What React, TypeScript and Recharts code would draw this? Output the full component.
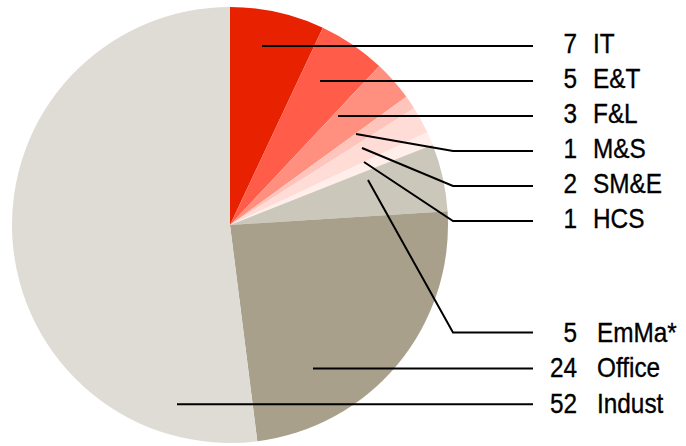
import { PieChart, Pie, Cell } from 'recharts';

const NAMES = ['IT', 'E&T', 'F&L', 'M&S', 'SM&E', 'HCS', 'EmMa*', 'Office', 'Indust'];
const VALUES = [7, 5, 3, 1, 2, 1, 5, 24, 52];

const COLORS = [
  '#e82200',
  '#ff5c4a',
  '#ff9080',
  '#ffc4bc',
  '#ffdcd6',
  '#ffeeea',
  '#ccc7bb',
  '#a8a08b',
  '#dfdcd6',
];

// annotation layout: where each leader line leaves the slice (relative to pie centre)
const LEADER_START: [number, number][] = [
  [32, -179],
  [90, -144],
  [108, -108],
  [126, -91],
  [132, -77],
  [134, -63],
  [138, -45],
  [83, 143],
  [-53, 179],
];

const KINK_X = 453;
const LINE_END_X = 533;
const NUM_X = 577;
const FONT = 28;
const SQUEEZE = 0.87;

const data = NAMES.map((name, i) => ({ name, value: VALUES[i] }));

function rowY(i: number) {
  // six labels stacked at the top, three at the bottom
  return i < 6 ? 46 + i * 35 : 332.5 + (i - 6) * 35.9;
}

function Squeezed({ x, y, anchor, children }: { x: number; y: number; anchor: 'start' | 'end'; children: any }) {
  return (
    <text
      transform={`translate(${x},${y}) scale(${SQUEEZE},1)`}
      textAnchor={anchor}
      fontSize={FONT}
      fill="#000"
      stroke="#000"
      strokeWidth={0.35}
    >
      {children}
    </text>
  );
}

function renderLabel(props: any) {
  const { cx, cy, index, name, value } = props;
  const [dx, dy] = LEADER_START[index];
  const sx = cx + dx;
  const sy = cy + dy;
  const y = rowY(index);
  const bottom = index >= 6;
  const straight = Math.abs(sy - y) < 2;
  const points = straight
    ? `${sx},${y} ${LINE_END_X},${y}`
    : `${sx},${sy} ${KINK_X},${y} ${LINE_END_X},${y}`;
  const base = y + (bottom ? 9 : 6.5);
  return (
    <g key={`lbl-${index}`}>
      <polyline points={points} fill="none" stroke="#000" strokeWidth={2} />
      <Squeezed x={NUM_X} y={base} anchor="end">
        {value}
      </Squeezed>
      <Squeezed x={bottom ? 597 : 593} y={base} anchor="start">
        {name}
      </Squeezed>
    </g>
  );
}

export default function App() {
  return (
    <div style={{ width: 686, height: 446, fontFamily: '"Liberation Sans", Arial, sans-serif' }}>
      <style>{'body{margin:0}'}</style>
      <PieChart width={686} height={446} margin={{ top: 0, right: 0, bottom: 0, left: 0 }}>
        <Pie
          data={data}
          dataKey="value"
          nameKey="name"
          cx={230}
          cy={225}
          outerRadius={218}
          startAngle={90}
          endAngle={-270}
          stroke="none"
          label={renderLabel}
          labelLine={false}
          isAnimationActive={false}
        >
          {data.map((d, i) => (
            <Cell key={d.name} fill={COLORS[i]} />
          ))}
        </Pie>
      </PieChart>
    </div>
  );
}
